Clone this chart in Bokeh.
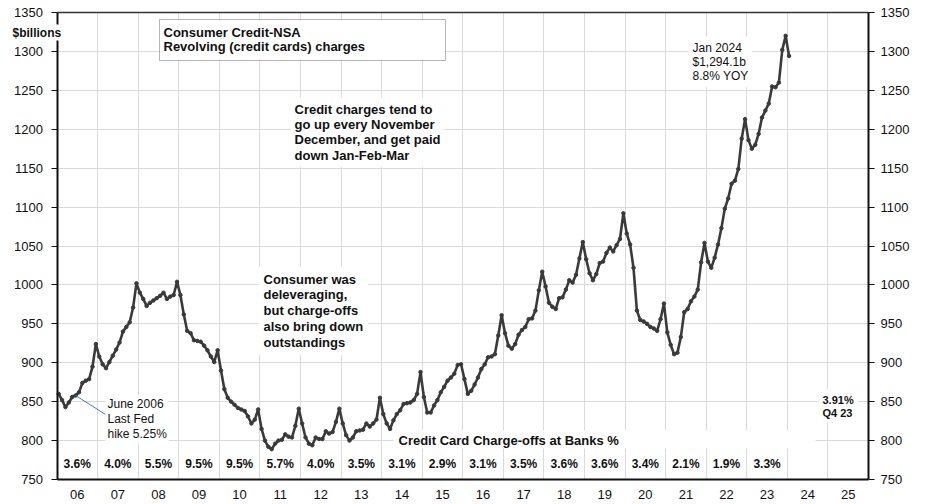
from bokeh.plotting import figure
from bokeh.models import Range1d, LinearAxis, FixedTicker, Label, BoxAnnotation
from bokeh.embed import file_html
from bokeh.resources import INLINE

# ---------------- data (revolving consumer credit, NSA, $ billions, monthly) ----
start_year = 2006
rev_2006 = [860, 852, 843, 849, 856, 858, 862, 874, 877, 879, 895, 924]
rev_2007 = [908, 898, 893, 901, 909, 917, 926, 940, 946, 952, 971, 1002]
rev_2008 = [990, 982, 973, 977, 980, 983, 986, 990, 982, 985, 987, 1004]
rev_2009 = [987, 962, 941, 938, 929, 928, 927, 922, 916, 908, 901, 916]
rev_2010 = [890, 866, 855, 850, 846, 842, 840, 838, 831, 822, 827, 840]
rev_2011 = [815, 800, 792, 789, 796, 800, 801, 808, 805, 804, 819, 841]
rev_2012 = [822, 804, 796, 794, 804, 802, 802, 812, 809, 811, 824, 841]
rev_2013 = [822, 807, 800, 804, 812, 813, 814, 822, 818, 822, 827, 855]
rev_2014 = [834, 822, 815, 826, 834, 839, 847, 848, 849, 852, 860, 888]
rev_2015 = [856, 836, 836, 845, 852, 862, 869, 877, 881, 886, 897, 898]
rev_2016 = [879, 860, 864, 872, 881, 892, 898, 907, 908, 911, 935, 961]
rev_2017 = [938, 922, 918, 924, 936, 942, 946, 956, 957, 967, 993, 1017]
rev_2018 = [998, 977, 972, 969, 983, 984, 994, 1006, 1003, 1013, 1034, 1055]
rev_2019 = [1033, 1015, 1006, 1014, 1028, 1030, 1041, 1048, 1043, 1051, 1059, 1092]
rev_2020 = [1066, 1052, 1022, 967, 955, 953, 950, 946, 944, 941, 956, 976]
rev_2021 = [939, 923, 911, 913, 933, 965, 969, 979, 985, 994, 1029, 1054]
rev_2022 = [1030, 1022, 1035, 1052, 1073, 1098, 1111, 1130, 1134, 1149, 1188, 1213]
rev_2023 = [1186, 1175, 1180, 1194, 1215, 1224, 1233, 1255, 1254, 1260, 1302, 1320]
rev_2024 = [1294.1]

axis_years = list(range(2006, 2026))
year_labels = ["06", "07", "08", "09", "10", "11", "12", "13", "14", "15",
               "16", "17", "18", "19", "20", "21", "22", "23", "24", "25"]
chargeoff_years = list(range(2006, 2024))
chargeoff_rates = ["3.6%", "4.0%", "5.5%", "9.5%", "9.5%", "5.7%", "4.0%", "3.5%", "3.1%",
                   "2.9%", "3.1%", "3.5%", "3.6%", "3.6%", "3.4%", "2.1%", "1.9%", "3.3%"]
y_ticks = [750, 800, 850, 900, 950, 1000, 1050, 1100, 1150, 1200, 1250, 1300, 1350]

revolving = (rev_2006 + rev_2007 + rev_2008 + rev_2009 + rev_2010 + rev_2011 + rev_2012
             + rev_2013 + rev_2014 + rev_2015 + rev_2016 + rev_2017 + rev_2018 + rev_2019
             + rev_2020 + rev_2021 + rev_2022 + rev_2023 + rev_2024)
dates = [start_year + (i + 0.5) / 12 for i in range(len(revolving))]

# ---------------- geometry ----------------
# The frame covers the whole canvas; the axes sit at fixed locations inside it so
# that texts placed outside the plotting box are not clipped.
W, H = 925, 504
AX_L, AX_R, AX_T, AX_B = 56.5, 868, 12, 479
X0, X1 = 2006, 2026
Y0, Y1 = 750, 1350
PPX = (AX_R - AX_L) / (X1 - X0)
PPV = (AX_B - AX_T) / (Y1 - Y0)

def X(px):
    return X0 + (px - AX_L) / PPX

def Y(py):
    return Y1 - (py - AX_T) / PPV

# ---------------- figure ----------------
FONT = "Liberation Sans"
TXT = "#111111"

p = figure(width=W, height=H, output_backend="svg", toolbar_location=None,
           x_range=Range1d(X(0), X(W)), y_range=Range1d(Y(H), Y(0)),
           min_border=0, min_border_left=0, min_border_right=0,
           min_border_top=0, min_border_bottom=0)
p.title = None
p.outline_line_color = None
p.background_fill_color = "white"
p.border_fill_color = "white"

# bottom axis: labels at mid-year, no ticks
xa = p.xaxis[0]
xa.fixed_location = Y0
xa.bounds = (X0, X1)
xa.ticker = FixedTicker(ticks=[y + 0.5 for y in axis_years])
xa.major_label_overrides = {y + 0.5: lab for y, lab in zip(axis_years, year_labels)}
xa.major_tick_out = 0
xa.major_tick_in = 0
xa.minor_tick_out = 0
xa.minor_tick_in = 0
xa.axis_line_color = "#111111"
xa.axis_line_width = 2
xa.major_label_standoff = 10
xa.major_label_text_font = FONT
xa.major_label_text_font_size = "13px"
xa.major_label_text_color = TXT

# top frame line
top = LinearAxis(fixed_location=Y1, bounds=(X0, X1), ticker=FixedTicker(ticks=[]),
                 major_tick_out=0, major_tick_in=0, minor_tick_out=0, minor_tick_in=0,
                 major_label_text_font_size="0px", axis_line_color="#333333",
                 axis_line_width=1.5)
p.add_layout(top, "above")

def style_y(ax, standoff, loc):
    ax.fixed_location = loc
    ax.bounds = (Y0, Y1)
    ax.ticker = FixedTicker(ticks=y_ticks)
    ax.major_tick_out = 6
    ax.major_tick_in = 0
    ax.minor_tick_out = 0
    ax.minor_tick_in = 0
    ax.major_tick_line_color = "#111111"
    ax.axis_line_color = "#111111"
    ax.axis_line_width = 2
    ax.major_label_standoff = standoff
    ax.major_label_text_font = FONT
    ax.major_label_text_font_size = "13px"
    ax.major_label_text_color = TXT

style_y(p.yaxis[0], 8, X0)
ra = LinearAxis()
style_y(ra, 6, X1)
p.add_layout(ra, "right")

p.xgrid.ticker = FixedTicker(ticks=list(range(2007, 2026)))
p.ygrid.ticker = FixedTicker(ticks=y_ticks[1:-1])
p.xgrid.grid_line_color = "#dadada"
p.ygrid.grid_line_color = "#dadada"
p.xgrid.grid_line_width = 1
p.ygrid.grid_line_width = 1

# blank out grid lines outside the plotting box
for kw in (dict(right=X0), dict(left=X1), dict(bottom=Y1), dict(top=Y0)):
    p.add_layout(BoxAnnotation(fill_color="white", fill_alpha=1, line_color=None,
                               level="underlay", **kw))

# series
LINE = "#3a3a3a"
p.line(dates, revolving, line_color=LINE, line_width=2.6)
p.scatter(dates, revolving, size=3.5, fill_color=LINE, line_color=LINE)

# ---------------- annotations ----------------
# June 2006 leader line
p.segment(x0=[dates[5]], y0=[revolving[5]], x1=[X(105)], y1=[Y(414)],
          line_color="#4a78c8", line_width=1)

# title box
p.add_layout(BoxAnnotation(left=X(159), right=X(445), top=Y(19), bottom=Y(60),
                           fill_color="white", fill_alpha=1, line_color="#111111",
                           line_width=1, level="annotation"))
# charge-off heading band
p.add_layout(BoxAnnotation(left=X(393), right=X(815), top=Y(430), bottom=Y(448),
                           fill_color="white", fill_alpha=1, line_color=None,
                           level="annotation"))

def lab(px, py, text, size, bold=True, align="left", baseline="top", bg=None, pad=0, lh=1.2,
        xv=None, yv=None):
    kw = dict(x=X(px - pad) if xv is None else xv,
              y=Y(py - pad) if yv is None else yv,
              text=text, text_font=FONT, text_font_size=size,
              text_font_style="bold" if bold else "normal", text_color=TXT,
              text_align=align, text_baseline=baseline, padding=pad, text_line_height=lh)
    if bg:
        kw["background_fill_color"] = bg
    p.add_layout(Label(**kw))

lab(12, 0, "$billions", "12px", baseline="middle", bg="white", pad=1, yv=Y(32))
lab(163, 24, "Consumer Credit-NSA\nRevolving (credit cards) charges", "13px", lh=0.95)
lab(294, 101, "Credit charges tend to\ngo up every November\nDecember, and get paid\ndown Jan-Feb-Mar",
    "13px", bg="white", pad=4, lh=1.03)
lab(263, 271, "Consumer was\ndeleveraging,\nbut charge-offs\nalso bring down\noutstandings",
    "13px", bg="white", pad=5, lh=1.06)
lab(107, 396, "June 2006\nLast Fed\nhike 5.25%", "12px", bold=False, bg="white", pad=2, lh=1.09)
lab(692, 40, "Jan 2024\n$1,294.1b\n8.8% YOY", "12px", bold=False, bg="white", pad=4, lh=1.03)
lab(398, 0, "Credit Card Charge-offs at Banks %", "13px", baseline="middle", yv=800)
lab(822, 393, "3.91%\nQ4 23", "11px", bg="white", pad=4, lh=1.1)

for yr, rate in zip(chargeoff_years, chargeoff_rates):
    lab(0, 463, rate, "12px", align="center", baseline="middle", bg="white", pad=2,
        xv=yr + 0.5, yv=Y(463))

open("out.html", "w").write(file_html(p, INLINE))
